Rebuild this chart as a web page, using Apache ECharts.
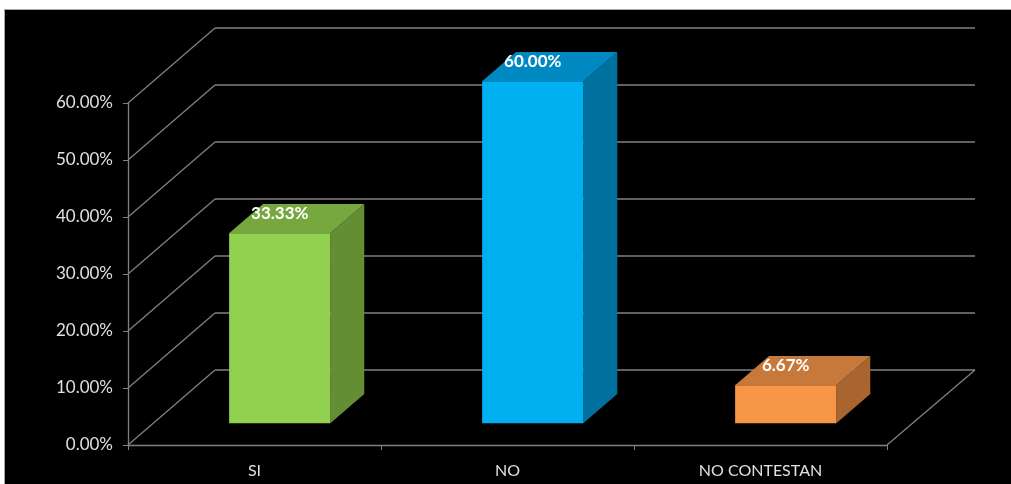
<!DOCTYPE html>
<html><head><meta charset="utf-8">
<script src="https://cdn.jsdelivr.net/npm/echarts@6/dist/echarts.min.js"></script>
<style>
html,body{margin:0;padding:0;background:#ffffff;width:1011px;height:484px;overflow:hidden;}
#frame{position:absolute;left:4px;top:9px;width:1010px;height:480px;background:#000;border:1px solid #a6a6a6;box-sizing:border-box;}
#c{position:absolute;left:0;top:0;width:1011px;height:484px;}
</style></head>
<body><div id="frame"></div><div id="c"></div>
<script>
const categories = ['SI', 'NO', 'NO CONTESTAN'];
const values = [0.3333, 0.6000, 0.0667];
const tickValues = [0, 0.1, 0.2, 0.3, 0.4, 0.5, 0.6];

const faceColors = [
  {front:'#92D050', side:'#638E34', top:'#77A83F'},
  {front:'#00B0F0', side:'#00719E', top:'#0089C0'},
  {front:'#F79646', side:'#A8652F', top:'#C6793A'}
];
const DX = 87, DY = -75;      // depth vector of the 3D box
const F1 = 0.29, F2 = 0.68;   // bar front/back depth fractions
const gridColor = '#808080';
const fmt = v => (v*100).toFixed(2) + '%';

const chart = echarts.init(document.getElementById('c'), null, {renderer:'canvas'});
chart.setOption({
  backgroundColor: 'transparent',
  animation: false,
  grid: {left:128, right:124, top:103, bottom:39, containLabel:false},
  xAxis: {
    type:'category', data: categories,
    axisLine:{show:true, lineStyle:{color:gridColor, width:1.3}},
    axisTick:{show:true, length:5, lineStyle:{color:gridColor}},
    axisLabel:{color:'#e0e0e0', fontFamily:'Lato', fontSize:16, margin:18}
  },
  yAxis: {
    type:'value', min:0, max:0.6, interval:0.1,
    axisLine:{show:true, lineStyle:{color:gridColor, width:1.3}},
    axisTick:{show:true, length:5, lineStyle:{color:gridColor}},
    splitLine:{show:false},
    axisLabel:{color:'#e0e0e0', fontFamily:'Lato', fontSize:17, margin:15, formatter: fmt}
  },
  series: [
    {
      type:'custom', z:1, silent:true,
      data: tickValues.map(v => [0, v]),
      renderItem: function(params, api){
        const cs = params.coordSys;
        const v = api.value(1);
        const y = api.coord([0, v])[1];
        const x0 = cs.x, x1 = cs.x + cs.width;
        const children = [
          {type:'line', shape:{x1:x0, y1:y, x2:x0+DX, y2:y+DY}, style:{stroke:gridColor, lineWidth:1.3}},
          {type:'line', shape:{x1:x0+DX, y1:y+DY, x2:x1+DX+1, y2:y+DY}, style:{stroke:gridColor, lineWidth:1.3}}
        ];
        if (v === 0) {
          children.push({type:'line', shape:{x1:x1, y1:y, x2:x1+DX+1, y2:y+DY}, style:{stroke:gridColor, lineWidth:1.3}});
        }
        return {type:'group', children};
      }
    },
    {
      type:'custom', z:5, silent:true,
      data: values.map((v,i) => [i, v]),
      renderItem: function(params, api){
        const i = api.value(0), v = api.value(1);
        const base = api.coord([i, 0]);
        const topP = api.coord([i, v]);
        const band = api.size([1, 0])[0];
        const w = band * 0.4;
        const fx = DX*F1, fy = DY*F1;
        const sx = DX*(F2-F1), sy = DY*(F2-F1);
        const l = base[0] - w/2 + fx, r = base[0] + w/2 + fx;
        const b = base[1] + fy, t = topP[1] + fy;
        const c = faceColors[i];
        return {type:'group', children:[
          {type:'polygon', shape:{points:[[r,b],[r+sx,b+sy],[r+sx,t+sy],[r,t]]}, style:{fill:c.side}},
          {type:'polygon', shape:{points:[[l,t],[r,t],[r+sx,t+sy],[l+sx,t+sy]]}, style:{fill:c.top}},
          {type:'rect', shape:{x:l, y:t, width:r-l, height:b-t}, style:{fill:c.front}},
          {type:'text', style:{text: fmt(v), x:(l+r)/2, y:t-20, align:'center', verticalAlign:'middle',
            fill:'#ffffff', font:'bold 17px Lato'}}
        ]};
      }
    }
  ]
});
</script></body></html>
